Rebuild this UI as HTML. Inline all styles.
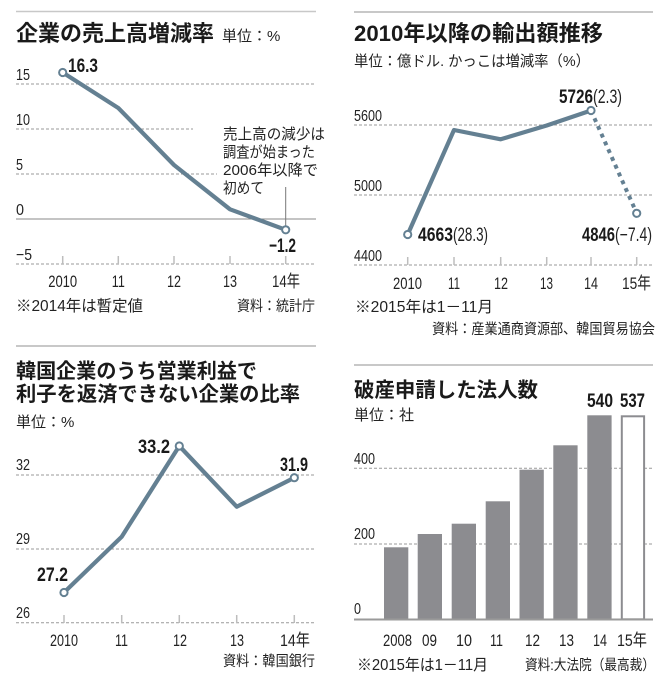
<!DOCTYPE html>
<html><head><meta charset="utf-8"><style>
html,body{margin:0;padding:0;background:#fff;}
svg{display:block;}
text{font-family:"Liberation Sans","Noto Sans CJK JP",sans-serif;fill:#222;}
.t{font-weight:bold;fill:#1a1a1a;}
.b{font-weight:bold;fill:#1a1a1a;}
.g{stroke:#9a9a9a;stroke-width:1;stroke-dasharray:3 2;fill:none;}
.tk{stroke:#bdbdbd;stroke-width:1.5;}
.ln{fill:none;stroke:#648092;stroke-width:4.2;stroke-linejoin:round;stroke-linecap:round;}
.mk{fill:#fff;stroke:#648092;stroke-width:2;}
.rule{stroke:#c8c8c8;stroke-width:2;}
.ax{font-size:17px;}
.tl{font-size:16px;}
</style></head><body>
<svg width="669" height="698" viewBox="0 0 669 698" xmlns="http://www.w3.org/2000/svg">
<rect width="669" height="698" fill="#fff"/>

<!-- ===== Panel 1 ===== -->
<line class="rule" x1="16" y1="11.5" x2="316" y2="11.5" style="stroke-width:1.5"/>
<text class="t" x="16" y="41" font-size="22">企業の売上高増減率</text>
<text x="222" y="41" font-size="15">単位：%</text>

<line class="g" x1="16" y1="84" x2="316" y2="84"/>
<line class="g" x1="16" y1="129" x2="193" y2="129"/>
<line class="g" x1="16" y1="174" x2="217" y2="174"/>
<line class="g" x1="16" y1="264" x2="316" y2="264"/>
<line x1="16" y1="219" x2="316" y2="219" stroke="#8a8a8a" stroke-width="1"/>

<text class="tl" x="16" y="80" textLength="14" lengthAdjust="spacingAndGlyphs">15</text>
<text class="tl" x="16" y="125" textLength="14" lengthAdjust="spacingAndGlyphs">10</text>
<text class="tl" x="16" y="170" textLength="7" lengthAdjust="spacingAndGlyphs">5</text>
<text class="tl" x="16" y="215" textLength="8" lengthAdjust="spacingAndGlyphs">0</text>
<text class="tl" x="16" y="260" textLength="16" lengthAdjust="spacingAndGlyphs">−5</text>

<g class="tk">
<line x1="62.7" y1="256" x2="62.7" y2="264"/>
<line x1="118.3" y1="256" x2="118.3" y2="264"/>
<line x1="174" y1="256" x2="174" y2="264"/>
<line x1="230" y1="256" x2="230" y2="264"/>
<line x1="285.7" y1="256" x2="285.7" y2="264"/>
</g>
<line x1="285.7" y1="187" x2="285.7" y2="226" stroke="#777" stroke-width="1"/>

<polyline class="ln" points="62.7,72.5 118.3,108 174,165 230,209.3 285.7,229.8"/>
<circle class="mk" cx="62.7" cy="72.5" r="3.6"/>
<circle class="mk" cx="285.7" cy="229.8" r="3.6"/>

<text class="b" x="68" y="72" font-size="19" textLength="30" lengthAdjust="spacingAndGlyphs">16.3</text>
<text class="b" x="269" y="252" font-size="19" textLength="27" lengthAdjust="spacingAndGlyphs">−1.2</text>

<text x="223" y="139" font-size="15" textLength="102" lengthAdjust="spacingAndGlyphs">売上高の減少は</text>
<text x="223" y="157" font-size="15" textLength="92" lengthAdjust="spacingAndGlyphs">調査が始まった</text>
<text x="223" y="175" font-size="15" textLength="95" lengthAdjust="spacingAndGlyphs">2006年以降で</text>
<text x="223" y="193" font-size="15" textLength="41" lengthAdjust="spacingAndGlyphs">初めて</text>

<text class="ax" x="62.7" y="287" text-anchor="middle" textLength="29" lengthAdjust="spacingAndGlyphs">2010</text>
<text class="ax" x="118.3" y="287" text-anchor="middle" textLength="13" lengthAdjust="spacingAndGlyphs">11</text>
<text class="ax" x="174" y="287" text-anchor="middle" textLength="14" lengthAdjust="spacingAndGlyphs">12</text>
<text class="ax" x="230" y="287" text-anchor="middle" textLength="14" lengthAdjust="spacingAndGlyphs">13</text>
<text class="ax" x="272" y="287" textLength="28" lengthAdjust="spacingAndGlyphs">14年</text>

<text x="16" y="311" font-size="15.5" textLength="127" lengthAdjust="spacingAndGlyphs">※2014年は暫定値</text>
<text x="237" y="311" font-size="14.5" textLength="78" lengthAdjust="spacingAndGlyphs">資料：統計庁</text>

<!-- ===== Panel 2 ===== -->
<line class="rule" x1="354" y1="12" x2="653" y2="12"/>
<text class="t" x="354" y="41" font-size="22" textLength="249" lengthAdjust="spacingAndGlyphs">2010年以降の輸出額推移</text>
<text x="354" y="66" font-size="15" textLength="236" lengthAdjust="spacingAndGlyphs">単位：億ドル. かっこは増減率（%）</text>

<line class="g" x1="354" y1="125" x2="653" y2="125"/>
<line class="g" x1="354" y1="195" x2="653" y2="195"/>
<line class="g" x1="354" y1="265" x2="653" y2="265"/>

<text class="tl" x="354" y="121" textLength="28" lengthAdjust="spacingAndGlyphs">5600</text>
<text class="tl" x="354" y="191" textLength="28" lengthAdjust="spacingAndGlyphs">5000</text>
<text class="tl" x="354" y="261" textLength="28" lengthAdjust="spacingAndGlyphs">4400</text>

<g class="tk">
<line x1="407.7" y1="257" x2="407.7" y2="265"/>
<line x1="454" y1="257" x2="454" y2="265"/>
<line x1="500.7" y1="257" x2="500.7" y2="265"/>
<line x1="546.7" y1="257" x2="546.7" y2="265"/>
<line x1="591" y1="257" x2="591" y2="265"/>
<line x1="636.7" y1="257" x2="636.7" y2="265"/>
</g>

<polyline class="ln" points="407.7,234.5 454,130 500.7,139.3 546.7,125.5 591,110.5"/>
<line x1="591" y1="110.5" x2="636.7" y2="213.3" stroke="#648092" stroke-width="4" stroke-dasharray="4 4.5"/>
<circle class="mk" cx="407.7" cy="234.5" r="3.6"/>
<circle class="mk" cx="591" cy="110.5" r="3.6"/>
<circle class="mk" cx="636.7" cy="213.3" r="3.6"/>

<text class="b" x="418" y="241" font-size="19" textLength="35" lengthAdjust="spacingAndGlyphs">4663</text>
<text x="453" y="241" font-size="19" textLength="35" lengthAdjust="spacingAndGlyphs">(28.3)</text>
<text class="b" x="559" y="103" font-size="19" textLength="34" lengthAdjust="spacingAndGlyphs">5726</text>
<text x="593" y="103" font-size="19" textLength="29" lengthAdjust="spacingAndGlyphs">(2.3)</text>
<text class="b" x="582" y="241" font-size="19" textLength="33" lengthAdjust="spacingAndGlyphs">4846</text>
<text x="615" y="241" font-size="19" textLength="37" lengthAdjust="spacingAndGlyphs">(−7.4)</text>

<text class="ax" x="393" y="289" textLength="29" lengthAdjust="spacingAndGlyphs">2010</text>
<text class="ax" x="448" y="289" textLength="12" lengthAdjust="spacingAndGlyphs">11</text>
<text class="ax" x="494" y="289" textLength="14" lengthAdjust="spacingAndGlyphs">12</text>
<text class="ax" x="540" y="289" textLength="13" lengthAdjust="spacingAndGlyphs">13</text>
<text class="ax" x="584" y="289" textLength="14" lengthAdjust="spacingAndGlyphs">14</text>
<text class="ax" x="622" y="289" textLength="29" lengthAdjust="spacingAndGlyphs">15年</text>

<text x="355" y="312" font-size="15.5" textLength="138" lengthAdjust="spacingAndGlyphs">※2015年は1－11月</text>
<text x="432" y="334" font-size="14.5" textLength="223" lengthAdjust="spacingAndGlyphs">資料：産業通商資源部、韓国貿易協会</text>

<!-- ===== Panel 3 ===== -->
<line class="rule" x1="16" y1="346" x2="316" y2="346"/>
<text class="t" x="16" y="378" font-size="20.5" textLength="241" lengthAdjust="spacingAndGlyphs">韓国企業のうち営業利益で</text>
<text class="t" x="16" y="401" font-size="20.5" textLength="284" lengthAdjust="spacingAndGlyphs">利子を返済できない企業の比率</text>
<text x="16" y="427" font-size="15">単位：%</text>

<line class="g" x1="16" y1="475" x2="316" y2="475"/>
<line class="g" x1="16" y1="549" x2="316" y2="549"/>
<line class="g" x1="16" y1="622.7" x2="316" y2="622.7"/>

<text class="tl" x="16" y="470" textLength="14" lengthAdjust="spacingAndGlyphs">32</text>
<text class="tl" x="16" y="544" textLength="14" lengthAdjust="spacingAndGlyphs">29</text>
<text class="tl" x="16" y="618" textLength="14" lengthAdjust="spacingAndGlyphs">26</text>

<g class="tk">
<line x1="64" y1="615" x2="64" y2="623"/>
<line x1="121.7" y1="615" x2="121.7" y2="623"/>
<line x1="179.3" y1="615" x2="179.3" y2="623"/>
<line x1="236.7" y1="615" x2="236.7" y2="623"/>
<line x1="294.3" y1="615" x2="294.3" y2="623"/>
</g>

<polyline class="ln" points="64,592.5 121.7,536.7 179.3,446 236.7,506.7 294.3,477.7"/>
<circle class="mk" cx="64" cy="592.5" r="3.6"/>
<circle class="mk" cx="179.3" cy="446" r="3.6"/>
<circle class="mk" cx="294.3" cy="477.7" r="3.6"/>

<text class="b" x="138" y="453" font-size="19" textLength="32" lengthAdjust="spacingAndGlyphs">33.2</text>
<text class="b" x="280" y="471" font-size="19" textLength="28" lengthAdjust="spacingAndGlyphs">31.9</text>
<text class="b" x="37" y="581" font-size="19" textLength="31" lengthAdjust="spacingAndGlyphs">27.2</text>

<text class="ax" x="50" y="646" textLength="28" lengthAdjust="spacingAndGlyphs">2010</text>
<text class="ax" x="115" y="646" textLength="13" lengthAdjust="spacingAndGlyphs">11</text>
<text class="ax" x="173" y="646" textLength="14" lengthAdjust="spacingAndGlyphs">12</text>
<text class="ax" x="230" y="646" textLength="14" lengthAdjust="spacingAndGlyphs">13</text>
<text class="ax" x="280" y="646" textLength="30" lengthAdjust="spacingAndGlyphs">14年</text>

<text x="223" y="666" font-size="14.5" textLength="92" lengthAdjust="spacingAndGlyphs">資料：韓国銀行</text>

<!-- ===== Panel 4 ===== -->
<line class="rule" x1="354" y1="365" x2="653" y2="365"/>
<text class="t" x="354" y="397" font-size="20.5" textLength="184" lengthAdjust="spacingAndGlyphs">破産申請した法人数</text>
<text x="354" y="420" font-size="15">単位：社</text>

<line class="g" x1="354" y1="468.3" x2="653" y2="468.3"/>
<line class="g" x1="354" y1="544" x2="653" y2="544"/>

<text class="tl" x="354" y="464" textLength="21" lengthAdjust="spacingAndGlyphs">400</text>
<text class="tl" x="354" y="539" textLength="21" lengthAdjust="spacingAndGlyphs">200</text>
<text class="tl" x="354" y="614" textLength="7" lengthAdjust="spacingAndGlyphs">0</text>

<g fill="#8c8c90">
<rect x="384" y="547.3" width="24.3" height="72"/>
<rect x="417.7" y="534" width="24.3" height="85.3"/>
<rect x="451.7" y="523.7" width="24.3" height="95.6"/>
<rect x="485.7" y="501.3" width="24.3" height="118"/>
<rect x="519.5" y="469.7" width="24.3" height="149.6"/>
<rect x="553.3" y="445.3" width="24.3" height="174"/>
<rect x="587.3" y="415.3" width="24.3" height="204"/>
</g>
<rect x="621.8" y="416.3" width="22.3" height="203" fill="#fff" stroke="#8c8c90" stroke-width="2"/>
<line x1="354" y1="619.5" x2="653" y2="619.5" stroke="#9a9a9a" stroke-width="2"/>

<text class="b" x="587" y="407" font-size="19" textLength="26" lengthAdjust="spacingAndGlyphs">540</text>
<text class="b" x="620" y="407" font-size="19" textLength="25" lengthAdjust="spacingAndGlyphs">537</text>

<text class="ax" x="383" y="646" textLength="29" lengthAdjust="spacingAndGlyphs">2008</text>
<text class="ax" x="422" y="646" textLength="15" lengthAdjust="spacingAndGlyphs">09</text>
<text class="ax" x="456" y="646" textLength="16" lengthAdjust="spacingAndGlyphs">10</text>
<text class="ax" x="490" y="646" textLength="13" lengthAdjust="spacingAndGlyphs">11</text>
<text class="ax" x="525" y="646" textLength="15" lengthAdjust="spacingAndGlyphs">12</text>
<text class="ax" x="559" y="646" textLength="15" lengthAdjust="spacingAndGlyphs">13</text>
<text class="ax" x="593" y="646" textLength="14" lengthAdjust="spacingAndGlyphs">14</text>
<text class="ax" x="617" y="646" textLength="30" lengthAdjust="spacingAndGlyphs">15年</text>

<text x="357" y="670" font-size="15.5" textLength="131" lengthAdjust="spacingAndGlyphs">※2015年は1－11月</text>
<text x="525" y="670" font-size="14.5" textLength="130" lengthAdjust="spacingAndGlyphs">資料:大法院（最高裁）</text>
</svg>
</body></html>
